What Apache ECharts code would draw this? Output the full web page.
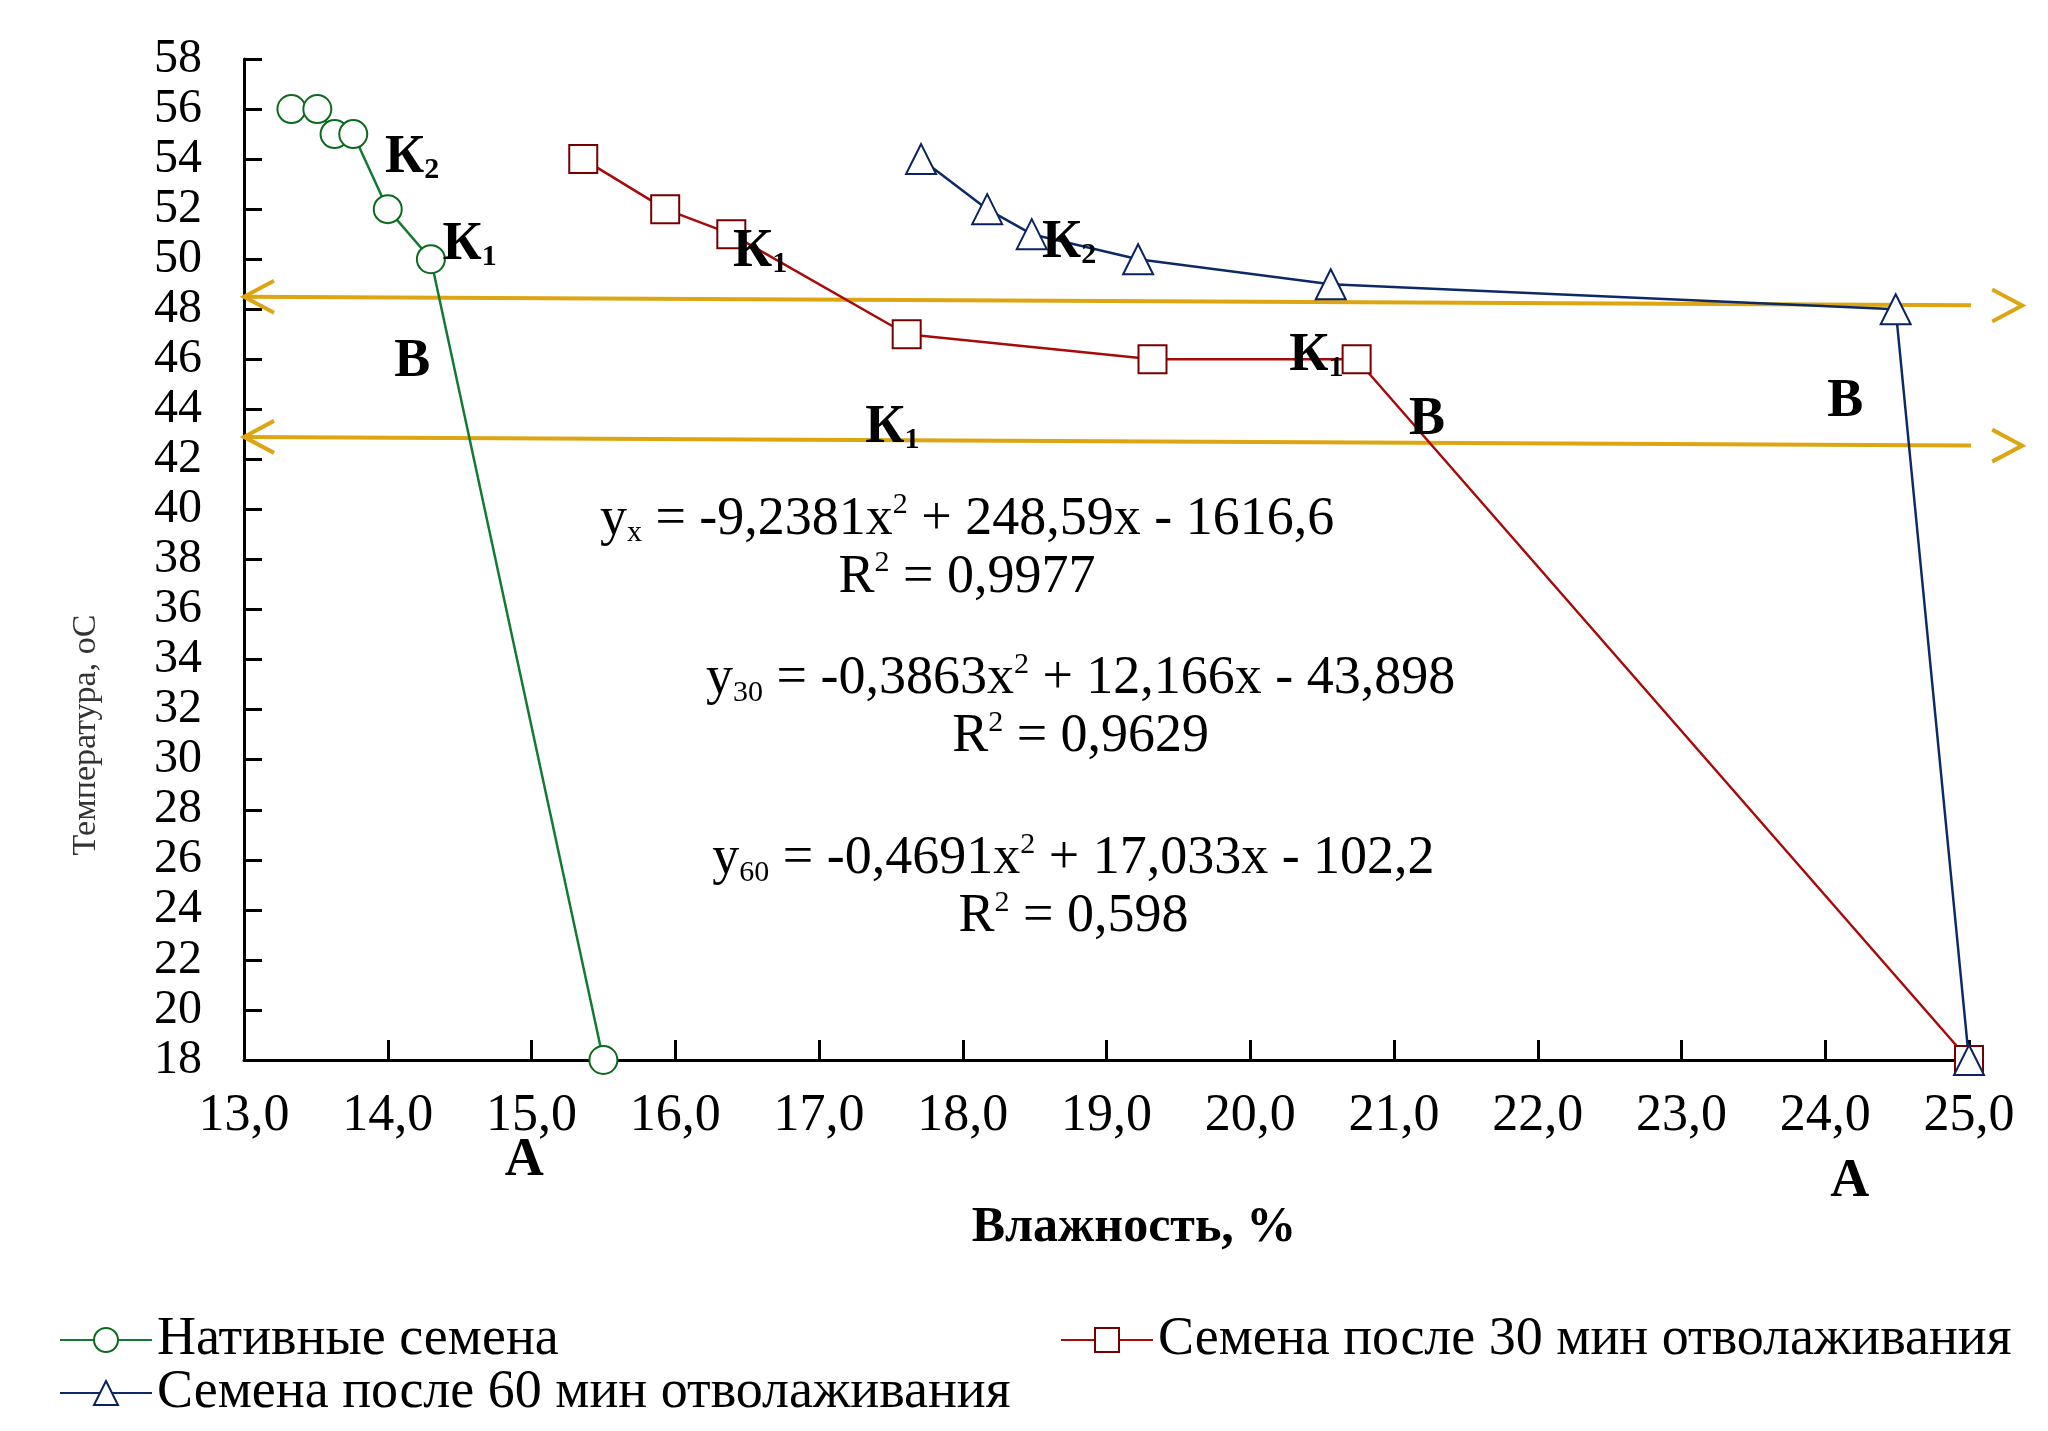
<!DOCTYPE html>
<html>
<head>
<meta charset="utf-8">
<script src="https://cdn.jsdelivr.net/npm/echarts@6/dist/echarts.min.js"></script>
<style>
  html, body { margin: 0; padding: 0; background: #fff; }
  #chart { width: 2048px; height: 1431px; }
</style>
</head>
<body>
<div id="chart"></div>
<script>
// Drying curves: grain temperature vs. moisture content
const seriesNames = [
  'Нативные семена',
  'Семена после 30 мин отволаживания',
  'Семена после 60 мин отволаживания'
];
const moistureNative = [13.33, 13.51, 13.63, 13.76, 14.0, 14.3, 15.5];
const tempNative     = [56, 56, 55, 55, 52, 50, 18];
const moisture30     = [15.36, 15.93, 16.39, 17.61, 19.32, 20.74, 25.0];
const temp30         = [54, 52, 51, 47, 46, 46, 18];
const moisture60     = [17.71, 18.17, 18.48, 19.22, 20.56, 24.49, 25.0];
const temp60         = [54, 52, 51, 50, 49, 48, 18];

// axis ranges: [min, max, interval]
const xRange = [13, 25, 1];
const yRange = [18, 58, 2];

// horizontal guide arrows, ends given as [moisture, temperature]
const guideUpper = [[13.0, 48.5], [25.37, 48.15]];
const guideLower = [[13.0, 42.9], [25.37, 42.55]];

// point labels: [moisture, temperature, text]
const pointNotes = [
  [14.17, 54.04, 'К{s|2}'],
  [14.57, 50.56, 'К{s|1}'],
  [14.17, 45.88, 'В'],
  [14.95, 13.96, 'А'],
  [16.59, 50.28, 'К{s|1}'],
  [18.74, 50.64, 'К{s|2}'],
  [20.46, 46.12, 'К{s|1}'],
  [21.23, 43.56, 'В'],
  [24.14, 44.28, 'В'],
  [17.51, 43.24, 'К{s|1}'],
  [24.17, 13.12, 'А']
];

// regression equations: [moisture, temperature, text]
const fitNotes = [
  [18.03, 38.44, 'y{sb|x} = -9,2381x{sp|2} + 248,59x - 1616,6\nR{sp|2} = 0,9977'],
  [18.82, 32.08, 'y{sb|30} = -0,3863x{sp|2} + 12,166x - 43,898\nR{sp|2} = 0,9629'],
  [18.77, 24.88, 'y{sb|60} = -0,4691x{sp|2} + 17,033x - 102,2\nR{sp|2} = 0,598']
];

const FONT = 'Liberation Serif';
const GOLD = '#dca511';
const colors = {
  native: { line: '#137a33', mark: '#0b6a1e' },
  s30:    { line: '#a80a0a', mark: '#760000' },
  s60:    { line: '#0c2a66', mark: '#0a2260' }
};

const zip = (xs, ys) => xs.map((x, i) => [x, ys[i]]);

const chevronRight = 'path://M0,0 L30,16 L0,32';
const chevronLeft  = 'path://M30,0 L0,16 L30,32';

function guideSeries(ends) {
  const style = { color: 'rgba(0,0,0,0)', borderColor: GOLD, borderWidth: 4 };
  return {
    type: 'line',
    silent: true,
    clip: false,
    z: 1,
    lineStyle: { color: GOLD, width: 4 },
    symbolSize: [30, 32],
    data: [
      { value: ends[0], symbol: chevronLeft, symbolOffset: [15, 0], itemStyle: style },
      { value: ends[1], symbol: chevronRight, symbolOffset: [-15, 0], itemStyle: style }
    ]
  };
}

function dataSeries(name, xs, ys, symbol, c, size) {
  return {
    name: name,
    type: 'line',
    z: 3,
    data: zip(xs, ys),
    symbol: symbol,
    symbolSize: size,
    showAllSymbol: true,
    lineStyle: { color: c.line, width: 2.5 },
    itemStyle: { color: c.mark, borderColor: c.mark, borderWidth: 3 }
  };
}

function noteSeries(notes, label) {
  return {
    type: 'scatter',
    silent: true,
    clip: false,
    z: 5,
    symbol: 'circle',
    symbolSize: 0.1,
    itemStyle: { color: '#000', opacity: 1 },
    label: label,
    data: notes.map(n => ({ value: [n[0], n[1]], label: { formatter: n[2] } }))
  };
}

const chart = echarts.init(document.getElementById('chart'), null, { renderer: 'canvas' });

const legendBase = {
  orient: 'horizontal',
  padding: 0,
  itemWidth: 92,
  itemHeight: 30,
  selectedMode: false,
  textStyle: { fontFamily: FONT, fontSize: 54, color: '#000' }
};

chart.setOption({
  animation: false,
  backgroundColor: '#fff',
  grid: {
    left: 244, right: 79, top: 59, bottom: 371,
    containLabel: false, outerBoundsMode: 'none'
  },
  xAxis: {
    type: 'value',
    min: xRange[0], max: xRange[1], interval: xRange[2],
    splitLine: { show: false },
    axisLine: { lineStyle: { color: '#000', width: 3 } },
    axisTick: { inside: true, length: 20, lineStyle: { color: '#000', width: 3 } },
    axisLabel: {
      margin: 30, color: '#000', fontFamily: FONT, fontSize: 52,
      showMinLabel: true, showMaxLabel: true, hideOverlap: false,
      formatter: v => v.toFixed(1).replace('.', ',')
    }
  },
  yAxis: {
    type: 'value',
    min: yRange[0], max: yRange[1], interval: yRange[2],
    splitLine: { show: false },
    axisLine: { show: true, lineStyle: { color: '#000', width: 3 } },
    axisTick: { show: true, inside: true, length: 18, lineStyle: { color: '#000', width: 3 } },
    axisLabel: {
      margin: 42, color: '#000', fontFamily: FONT, fontSize: 48, lineHeight: 40,
      showMinLabel: true, showMaxLabel: true, hideOverlap: false
    }
  },
  legend: [
    Object.assign({}, legendBase, { data: [seriesNames[0]], left: 59, top: 1313 }),
    Object.assign({}, legendBase, { data: [seriesNames[1]], left: 1060, top: 1313 }),
    Object.assign({}, legendBase, { data: [seriesNames[2]], left: 59, top: 1366 })
  ],
  graphic: [
    {
      type: 'text',
      x: 1134, y: 1228,
      style: {
        text: 'Влажность, %', fontFamily: FONT, fontSize: 50, fontWeight: 'bold',
        fill: '#000', align: 'center', verticalAlign: 'middle'
      }
    },
    {
      type: 'text',
      x: 86, y: 735, rotation: Math.PI / 2,
      style: {
        text: 'Температура, оС', fontFamily: FONT, fontSize: 34,
        fill: '#333', align: 'center', verticalAlign: 'middle'
      }
    }
  ],
  series: [
    guideSeries(guideUpper),
    guideSeries(guideLower),
    dataSeries(seriesNames[0], moistureNative, tempNative, 'emptyCircle', colors.native, 28),
    dataSeries(seriesNames[1], moisture30, temp30, 'emptyRect', colors.s30, 28),
    dataSeries(seriesNames[2], moisture60, temp60, 'emptyTriangle', colors.s60, 30),
    noteSeries(pointNotes, {
      show: true, position: 'inside',
      fontFamily: FONT, fontSize: 54, fontWeight: 'bold', color: '#000',
      textBorderWidth: 0,
      rich: {
        s: { fontFamily: FONT, fontSize: 30, fontWeight: 'bold', color: '#000', verticalAlign: 'bottom', padding: [22, 0, 0, 0] }
      }
    }),
    noteSeries(fitNotes, {
      show: true, position: 'inside', align: 'center',
      fontFamily: FONT, fontSize: 54, color: '#000', lineHeight: 58,
      textBorderWidth: 0,
      rich: {
        sb: { fontFamily: FONT, fontSize: 30, color: '#000', verticalAlign: 'bottom', padding: [20, 0, 0, 0] },
        sp: { fontFamily: FONT, fontSize: 30, color: '#000', verticalAlign: 'top', padding: [0, 0, 20, 0] }
      }
    })
  ]
});
</script>
</body>
</html>
